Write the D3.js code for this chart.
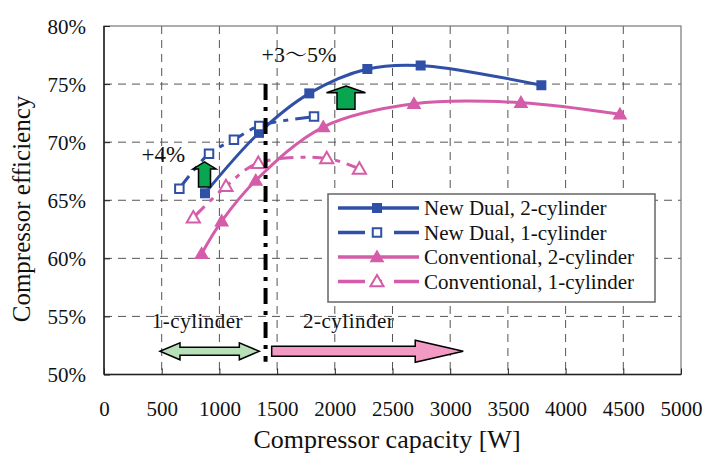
<!DOCTYPE html>
<html><head><meta charset="utf-8">
<script src="https://cdn.jsdelivr.net/npm/d3@7"></script>
<style>body{margin:0;background:#fff;}</style></head>
<body><svg id="c" width="707" height="453"></svg>
<script>
// ---- data ----
const xTicks = [0,500,1000,1500,2000,2500,3000,3500,4000,4500,5000];
const yTicks = [50,55,60,65,70,75,80];
const nd2X = [875,1343,1779,2282,2744,3790];
const nd2Y = [65.6,70.8,74.2,76.3,76.6,74.9];
const nd1X = [653,910,1126,1346,1820];
const nd1Y = [66.0,69.0,70.2,71.4,72.2];
const cv2X = [846,1020,1315,1900,2686,3613,4471];
const cv2Y = [60.4,63.2,66.7,71.3,73.3,73.4,72.4];
const cv1X = [774,1057,1337,1930,2213];
const cv1Y = [63.5,66.2,68.2,68.6,67.7];
const seriesNames = ["New Dual, 2-cylinder","New Dual, 1-cylinder","Conventional, 2-cylinder","Conventional, 1-cylinder"];

const FONT='"Liberation Serif"';
const BLUE="#2f50a6", PINK="#d45ca8";
const svg=d3.select("#c");
const x=d3.scaleLinear().domain([0,5000]).range([104,681]);
const y=d3.scaleLinear().domain([50,80]).range([374.5,26]);
const T=(sel,size)=>sel.style("font-family",FONT).style("font-size",size+"px").attr("fill","#111");

// grid
const g=svg.append("g");
g.selectAll(".vg").data(xTicks.slice(1,-1)).join("line")
 .attr("x1",d=>x(d)).attr("x2",d=>x(d)).attr("y1",y(80)).attr("y2",y(50))
 .attr("stroke","#555").attr("stroke-width",1).attr("stroke-dasharray","8,6");
g.selectAll(".hg").data(yTicks.slice(1,-1)).join("line")
 .attr("y1",d=>y(d)).attr("y2",d=>y(d)).attr("x1",x(0)).attr("x2",x(5000))
 .attr("stroke","#555").attr("stroke-width",1).attr("stroke-dasharray","8,6");
// frame
svg.append("rect").attr("x",x(0)).attr("y",y(80)).attr("width",x(5000)-x(0)).attr("height",y(50)-y(80))
 .attr("fill","none").attr("stroke","#777").attr("stroke-width",1.2);
svg.append("line").attr("x1",x(0)).attr("x2",x(0)).attr("y1",y(80)).attr("y2",y(50)).attr("stroke","#222").attr("stroke-width",1.5);
svg.append("line").attr("x1",x(0)).attr("x2",x(5000)).attr("y1",y(50)).attr("y2",y(50)).attr("stroke","#222").attr("stroke-width",1.5);
// axes via d3
const xa=svg.append("g").attr("transform",`translate(0,${y(50)})`)
 .call(d3.axisBottom(x).tickValues(xTicks).tickSize(-6).tickPadding(27).tickFormat(d3.format("d")));
const ya=svg.append("g").attr("transform",`translate(${x(0)},0)`)
 .call(d3.axisLeft(y).tickValues(yTicks).tickSize(-6).tickPadding(18).tickFormat(d=>d+"%"));
[xa,ya].forEach(a=>{a.select(".domain").remove();a.selectAll(".tick line").attr("stroke","#222");
 a.selectAll("text").call(T,21);});
ya.selectAll(".tick text").attr("dy","0.35em");
xa.selectAll(".tick text").attr("dy","0.71em");

// axis titles
svg.append("text").attr("x",387).attr("y",448).attr("text-anchor","middle").call(T,26).text("Compressor capacity [W]");
svg.append("text").attr("transform","translate(30,209) rotate(-90)").attr("text-anchor","middle").call(T,25).text("Compressor efficiency");

// lines
const line=d3.line().x(d=>x(d[0])).y(d=>y(d[1])).curve(d3.curveCatmullRom.alpha(0.5));
const zip=(a,b)=>a.map((v,i)=>[v,b[i]]);
const series=[
 {data:zip(nd2X,nd2Y),color:BLUE,dash:null,marker:"sq",filled:true},
 {data:zip(nd1X,nd1Y),color:BLUE,dash:"16,7,5,7",marker:"sq",filled:false},
 {data:zip(cv2X,cv2Y),color:PINK,dash:null,marker:"tri",filled:true},
 {data:zip(cv1X,cv1Y),color:PINK,dash:"16,7,5,7",marker:"tri",filled:false}
];
const symSq=d3.symbol().type(d3.symbolSquare).size(100);
const symSqO=d3.symbol().type(d3.symbolSquare).size(72);
const symTri=d3.symbol().type(d3.symbolTriangle).size(95);
const symTriO=d3.symbol().type(d3.symbolTriangle).size(75);
function marker(sel,s){
  const sym = s.marker==="sq" ? (s.filled?symSq:symSqO) : (s.filled?symTri:symTriO);
  sel.attr("d",sym()).attr("fill",s.filled?s.color:"#fff").attr("stroke",s.color).attr("stroke-width",s.filled?0:2);
}
series.forEach(s=>{
  svg.append("path").datum(s.data).attr("d",line).attr("fill","none").attr("stroke",s.color)
   .attr("stroke-width",3).attr("stroke-dasharray",s.dash);
});
series.forEach(s=>{
  svg.selectAll(null).data(s.data).join("path")
   .attr("transform",d=>`translate(${x(d[0])},${y(d[1]) + (s.marker==="tri"?1:0)})`)
   .call(sel=>marker(sel,s));
});

// vertical dash-dot separator
svg.append("line").attr("x1",x(1400)).attr("x2",x(1400)).attr("y1",y(75)).attr("y2",y(51.1))
 .attr("stroke","#000").attr("stroke-width",4).attr("stroke-dasharray","16,7,4,7");

// green up arrows
function upArrow(cx,yTop,yHead,yBot,hw,bw){
  const p=d3.path();
  p.moveTo(cx,yTop);p.lineTo(cx+hw,yHead);p.lineTo(cx+bw,yHead);p.lineTo(cx+bw,yBot);
  p.lineTo(cx-bw,yBot);p.lineTo(cx-bw,yHead);p.lineTo(cx-hw,yHead);p.closePath();
  svg.append("path").attr("d",p.toString()).attr("fill","#0aa550").attr("stroke","#000").attr("stroke-width",1.5).attr("stroke-linejoin","miter");
}
upArrow(x(871),y(68.3),y(67.7),y(66.15),11.5,6);
upArrow(x(2097),y(74.84),y(74.26),y(72.83),19.5,9);

// bottom range arrows
function hArrow(x0,x1,cy,bh,hh,hl,double,fill){
  const p=d3.path();
  if(double){
    p.moveTo(x0,cy);p.lineTo(x0+hl,cy-hh);p.lineTo(x0+hl,cy-bh);p.lineTo(x1-hl,cy-bh);p.lineTo(x1-hl,cy-hh);
    p.lineTo(x1,cy);p.lineTo(x1-hl,cy+hh);p.lineTo(x1-hl,cy+bh);p.lineTo(x0+hl,cy+bh);p.lineTo(x0+hl,cy+hh);p.closePath();
  } else {
    p.moveTo(x0,cy-bh);p.lineTo(x1-hl,cy-bh);p.lineTo(x1-hl,cy-hh);p.lineTo(x1,cy);p.lineTo(x1-hl,cy+hh);
    p.lineTo(x1-hl,cy+bh);p.lineTo(x0,cy+bh);p.closePath();
  }
  svg.append("path").attr("d",p.toString()).attr("fill",fill).attr("stroke","#000").attr("stroke-width",1.5);
}
hArrow(x(485),x(1346),y(52.0),4,8.5,20,true,"#b8e0b8");
hArrow(x(1453),x(3113),y(52.0),5,11,48,false,"#f29ac4");

// annotation texts
const t35=svg.append("text").attr("x",x(1365)).attr("y",62).call(T,22);
t35.append("tspan").text("+3");
t35.append("tspan").style("font-family",'"Noto Serif CJK SC"').text("～");
t35.append("tspan").text("5%");
svg.append("text").attr("x",x(325)).attr("y",162).call(T,23).text("+4%");
svg.append("text").attr("x",x(810)).attr("y",328).attr("text-anchor","middle").call(T,21).style("letter-spacing","0.5px").text("1-cylinder");
svg.append("text").attr("x",x(2120)).attr("y",328).attr("text-anchor","middle").call(T,21).style("letter-spacing","0.5px").text("2-cylinder");

// legend
const lg=svg.append("g");
lg.append("rect").attr("x",328).attr("y",194).attr("width",327).attr("height",108).attr("fill","#fff").attr("stroke","#666").attr("stroke-width",1.5);
series.forEach((s,i)=>{
  const cy=208+i*24.5;
  lg.append("line").attr("x1",338).attr("x2",419).attr("y1",cy).attr("y2",cy).attr("stroke",s.color).attr("stroke-width",3.5)
   .attr("stroke-dasharray",s.dash? "27,12,5,12":null);
  lg.append("path").attr("transform",`translate(377,${cy+(s.marker==="tri"?1:0)})`).call(sel=>marker(sel,s));
  lg.append("text").attr("x",424).attr("y",cy+7).call(T,21).text(seriesNames[i]);
});
</script></body></html>
